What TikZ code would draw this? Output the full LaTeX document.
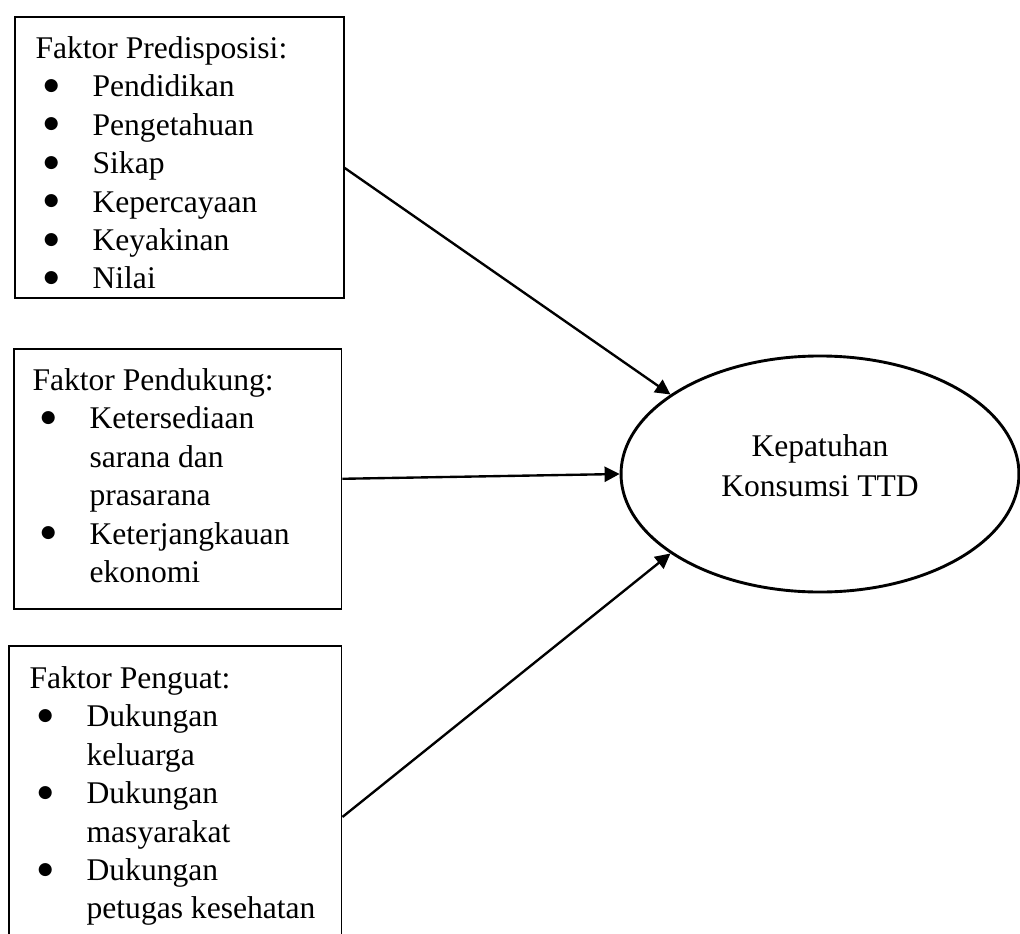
\documentclass[tikz,border=0pt]{standalone}
\usepackage{fontspec}
\setmainfont{Liberation Serif}
\newfontfamily\bulfont{DejaVu Sans}
\usetikzlibrary{shapes.geometric}
\usetikzlibrary{arrows.meta}
\newcommand{\itembul}{\hspace*{3.2pt}\makebox[18.5pt][l]{\raisebox{2.4pt}{\bulfont\fontsize{6.5pt}{7pt}\selectfont ●}}}
\newcommand{\itemcont}{\hspace*{21.7pt}}
\tikzset{
boxnodev1/.style={rectangle, draw=black!100,fill=none,line width=0.6pt, inner sep=0pt, anchor=north west},
textnodev1/.style={align=left, inner sep=0pt, anchor=north west, font=\fontsize{12pt}{14.6pt}\selectfont},
ellipsenodev1/.style={ellipse, draw=black!100,fill=none,line width=1.1pt, inner sep=0pt, minimum width= 151.2pt, minimum height = 89.7pt},
ellipsetextv1/.style={align=center, inner sep=0pt, font=\fontsize{12pt}{15.2pt}\selectfont},
arrowv1/.style={line width=0.9pt, -{Triangle[length=5.7pt,width=5.7pt]}},
}
\begin{document}
\begin{tikzpicture}[x=0.38pt,y=-0.38pt]
        \useasboundingbox (0,0) rectangle (1020,934);
        \node[boxnodev1, minimum width=125pt, minimum height=106.8pt] at (14,16) (pred) {};
        \node[boxnodev1, minimum width=124.6pt, minimum height=98.8pt] at (13,348) (dukung) {};
        \node[boxnodev1, minimum width=126.5pt, minimum height=112.1pt] at (8,645) (kuat) {};
        \node[textnodev1] at (35,36) (predtext) {Faktor Predisposisi:\\
            \itembul Pendidikan\\
            \itembul Pengetahuan\\
            \itembul Sikap\\
            \itembul Kepercayaan\\
            \itembul Keyakinan\\
            \itembul Nilai};
        \node[textnodev1] at (32,368) (dukungtext) {Faktor Pendukung:\\
            \itembul Ketersediaan\\
            \itemcont sarana dan\\
            \itemcont prasarana\\
            \itembul Keterjangkauan\\
            \itemcont ekonomi};
        \node[textnodev1] at (29,666) (kuattext) {Faktor Penguat:\\
            \itembul Dukungan\\
            \itemcont keluarga\\
            \itembul Dukungan\\
            \itemcont masyarakat\\
            \itembul Dukungan\\
            \itemcont petugas kesehatan};
        \node[ellipsenodev1] at (820,474) (patuh) {};
        \node[ellipsetextv1] at ([yshift=3pt]patuh.center) (patuhtext) {Kepatuhan\\Konsumsi TTD};
        \draw[arrowv1] ([yshift=-4pt]pred.east) -- (patuh.152);
        \draw[arrowv1] (dukung.east) -- (patuh.west);
        \draw[arrowv1] ([yshift=-9pt]kuat.east) -- (patuh.208);
    \end{tikzpicture}
\end{document}
